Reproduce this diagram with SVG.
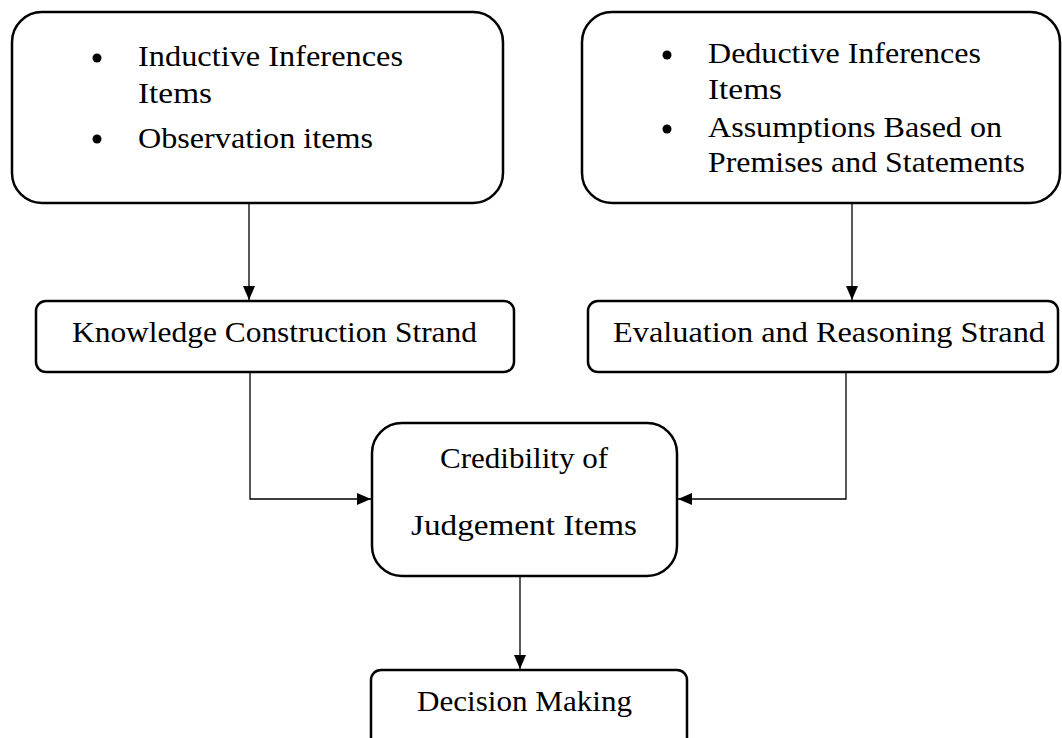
<svg xmlns="http://www.w3.org/2000/svg" width="1062" height="738" viewBox="0 0 1062 738">
<style>
.box{fill:#fff;stroke:#000;stroke-width:2.5}
.t{font-family:"Liberation Serif","Times New Roman",serif;font-size:30px;fill:#000}
.ln{fill:none;stroke:#000;stroke-width:1.3}
</style>
<defs>
<marker id="ah" viewBox="0 0 14 12" refX="14" refY="6" markerWidth="14" markerHeight="12" markerUnits="userSpaceOnUse" orient="auto">
<path d="M0,0 L14,6 L0,12 Z" fill="#000"/>
</marker>
</defs>
<rect width="1062" height="738" fill="#fff"/>
<g id="connectors">
<path class="ln" d="M249,203 V300" marker-end="url(#ah)"/>
<path class="ln" d="M852,203 V300" marker-end="url(#ah)"/>
<path class="ln" d="M250,372 V499 H371" marker-end="url(#ah)"/>
<path class="ln" d="M846,372 V499 H678" marker-end="url(#ah)"/>
<path class="ln" d="M520,576 V669" marker-end="url(#ah)"/>
</g>
<g id="inductive">
<rect class="box" x="12" y="12" width="491" height="191" rx="30"/>
<circle cx="97" cy="58" r="4.5"/>
<circle cx="97" cy="139" r="4.5"/>
<text class="t" x="138" y="66" textLength="265" lengthAdjust="spacingAndGlyphs">Inductive Inferences</text>
<text class="t" x="138" y="103" textLength="74" lengthAdjust="spacingAndGlyphs">Items</text>
<text class="t" x="138" y="148" textLength="235" lengthAdjust="spacingAndGlyphs">Observation items</text>
</g>
<g id="deductive">
<rect class="box" x="582" y="12" width="478" height="191" rx="30"/>
<circle cx="667" cy="55" r="4.5"/>
<circle cx="667" cy="129" r="4.5"/>
<text class="t" x="708" y="63" textLength="273" lengthAdjust="spacingAndGlyphs">Deductive Inferences</text>
<text class="t" x="708" y="99" textLength="74" lengthAdjust="spacingAndGlyphs">Items</text>
<text class="t" x="708" y="137" textLength="294" lengthAdjust="spacingAndGlyphs">Assumptions Based on</text>
<text class="t" x="708" y="172" textLength="317" lengthAdjust="spacingAndGlyphs">Premises and Statements</text>
</g>
<g id="knowledge">
<rect class="box" x="36" y="301" width="478" height="71" rx="10"/>
<text class="t" x="72" y="342" textLength="405" lengthAdjust="spacingAndGlyphs">Knowledge Construction Strand</text>
</g>
<g id="evaluation">
<rect class="box" x="588" y="301" width="470" height="71" rx="10"/>
<text class="t" x="613" y="342" textLength="432" lengthAdjust="spacingAndGlyphs">Evaluation and Reasoning Strand</text>
</g>
<g id="credibility">
<rect class="box" x="372" y="423" width="305" height="153" rx="30"/>
<text class="t" x="440" y="468" textLength="168" lengthAdjust="spacingAndGlyphs">Credibility of</text>
<text class="t" x="411" y="535" textLength="226" lengthAdjust="spacingAndGlyphs">Judgement Items</text>
</g>
<g id="decision">
<rect class="box" x="371" y="670" width="316" height="90" rx="10"/>
<text class="t" x="417" y="711" textLength="215" lengthAdjust="spacingAndGlyphs">Decision Making</text>
</g>
</svg>
